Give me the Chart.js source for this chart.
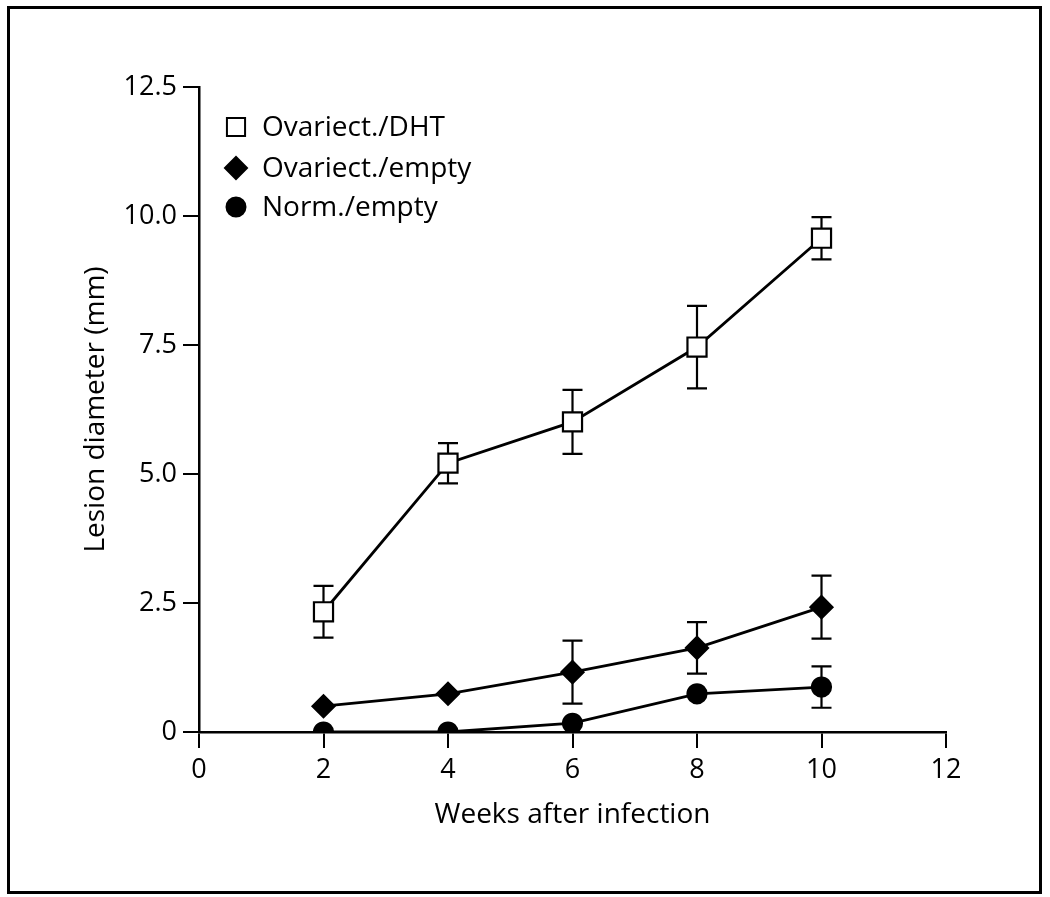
<!DOCTYPE html>
<html>
<head>
<meta charset="utf-8">
<script src="https://cdn.jsdelivr.net/npm/chart.js@4"></script>
<style>
  html, body { margin: 0; padding: 0; background: #fff; }
  #wrap { width: 1050px; height: 897px; position: relative; }
</style>
</head>
<body>
<div id="wrap"><canvas id="lesion" width="1050" height="897"></canvas></div>
<script>
// datos
const weeks = [2, 4, 6, 8, 10];
const dhtMean = [2.33, 5.21, 6.01, 7.46, 9.57];
const dhtErr = [0.5, 0.39, 0.62, 0.8, 0.41];
const ovxMean = [0.5, 0.74, 1.16, 1.63, 2.42];
const ovxErr = [0, 0, 0.61, 0.5, 0.61];
const normMean = [0, 0, 0.17, 0.74, 0.87];
const normErr = [0, 0, 0, 0, 0.4];
const xTicks = [0, 2, 4, 6, 8, 10, 12];
const yTicks = [0, 2.5, 5, 7.5, 10, 12.5];

const FONT = "'Open Sans', 'DejaVu Sans', sans-serif";

function pts(means) {
  return weeks.map((w, i) => ({ x: w, y: means[i] }));
}

const series = [
  { label: 'Ovariect./DHT', data: pts(dhtMean), err: dhtErr, pointStyle: 'rect', radius: 13.5, bg: '#fff' },
  { label: 'Ovariect./empty', data: pts(ovxMean), err: ovxErr, pointStyle: 'rectRot', radius: 11, bg: '#000' },
  { label: 'Norm./empty', data: pts(normMean), err: normErr, pointStyle: 'circle', radius: 9.5, bg: '#000' }
];

// barras de error (dibujadas debajo de los puntos)
const errorBars = {
  id: 'errorBars',
  beforeDatasetsDraw(chart) {
    const { ctx, scales: { x, y } } = chart;
    ctx.save();
    ctx.strokeStyle = '#000';
    ctx.lineWidth = 2.2;
    chart.data.datasets.forEach(ds => {
      ds.data.forEach((p, i) => {
        const e = ds.err[i];
        if (!e) return;
        const px = x.getPixelForValue(p.x);
        const top = y.getPixelForValue(p.y + e);
        const bot = y.getPixelForValue(Math.max(0, p.y - e));
        ctx.beginPath();
        ctx.moveTo(px, top); ctx.lineTo(px, bot);
        ctx.moveTo(px - 10, top); ctx.lineTo(px + 10, top);
        ctx.moveTo(px - 10, bot); ctx.lineTo(px + 10, bot);
        ctx.stroke();
      });
    });
    ctx.restore();
  }
};

// leyenda dentro del area y marco exterior
const legendAndFrame = {
  id: 'legendAndFrame',
  afterDraw(chart) {
    const { ctx } = chart;
    ctx.save();
    ctx.strokeStyle = '#000';
    ctx.lineWidth = 3;
    ctx.strokeRect(8.5, 7.5, 1032, 885);
    const rows = [127, 168, 207];
    chart.data.datasets.forEach((ds, i) => {
      ctx.fillStyle = ds.pointBackgroundColor;
      ctx.strokeStyle = '#000';
      ctx.lineWidth = 2;
      Chart.helpers.drawPoint(ctx, { pointStyle: ds.pointStyle, radius: ds.pointRadius * (i === 0 ? 0.95 : 1), borderWidth: 2 }, 236, rows[i]);
      ctx.fillStyle = '#000';
      ctx.font = '28px ' + FONT;
      ctx.textBaseline = 'middle';
      ctx.textAlign = 'left';
      ctx.fillText(ds.label, 262, rows[i] + 1);
    });
    ctx.restore();
  }
};

new Chart(document.getElementById('lesion'), {
  type: 'scatter',
  data: {
    datasets: series.map(s => ({
      label: s.label,
      data: s.data,
      err: s.err,
      showLine: true,
      borderColor: '#000',
      borderWidth: 2.8,
      pointStyle: s.pointStyle,
      pointRadius: s.radius,
      pointHoverRadius: s.radius,
      pointBackgroundColor: s.bg,
      pointBorderColor: '#000',
      pointBorderWidth: 2.2
    }))
  },
  options: {
    responsive: false,
    animation: false,
    layout: { padding: { top: 87, right: 104, left: 0, bottom: 0 } },
    plugins: { legend: { display: false }, tooltip: { enabled: false } },
    scales: {
      x: {
        type: 'linear',
        min: 0, max: 12,
        afterFit(scale) { scale.height = 165; },
        afterBuildTicks(scale) { scale.ticks = xTicks.map(v => ({ value: v })); },
        border: { color: '#000', width: 2.5 },
        grid: { drawOnChartArea: false, color: '#000', lineWidth: 2, tickLength: 16 },
        ticks: { color: '#000', font: { family: FONT, size: 27 }, padding: 6, maxRotation: 0 },
        title: { display: true, text: 'Weeks after infection', color: '#000', font: { family: FONT, size: 28 }, padding: { bottom: 65 } }
      },
      y: {
        min: 0, max: 12.5,
        afterFit(scale) { scale.width = 199; },
        afterBuildTicks(scale) { scale.ticks = yTicks.map(v => ({ value: v })); },
        border: { color: '#000', width: 2.5 },
        grid: { drawOnChartArea: false, color: '#000', lineWidth: 2, tickLength: 16 },
        ticks: {
          color: '#000', font: { family: FONT, size: 27 }, padding: 6,
          callback: v => v === 0 ? '0' : v.toFixed(1)
        },
        title: { display: true, text: 'Lesion diameter (mm)', color: '#000', font: { family: FONT, size: 28 }, padding: { top: 79 } }
      }
    }
  },
  plugins: [errorBars, legendAndFrame]
});
</script>
</body>
</html>
